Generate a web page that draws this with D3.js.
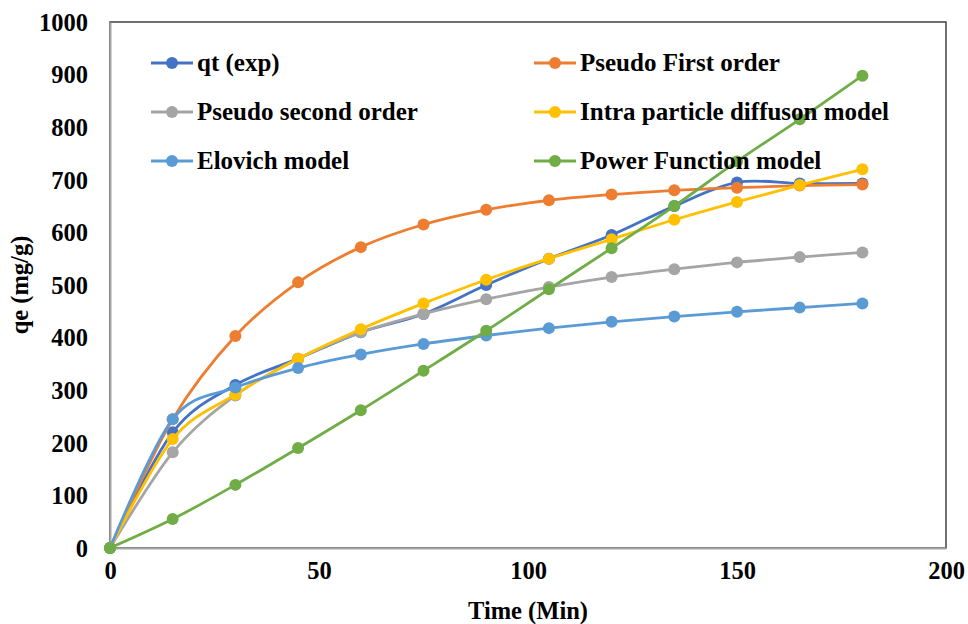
<!DOCTYPE html>
<html>
<head>
<meta charset="utf-8">
<script src="https://cdn.jsdelivr.net/npm/d3@7"></script>
<style>
  body { margin: 0; background: #fff; }
</style>
</head>
<body>
<div id="chart"></div>
<script>
const width = 968;
const height = 624;
const FONT = '"Liberation Serif"';

// time points (min)
const times = [0, 15, 30, 45, 60, 75, 90, 105, 120, 135, 150, 165, 180];

const qtExp = [0, 220, 310, 360, 410, 445, 500, 550, 595, 650, 695, 693, 693];
const pseudoFirst = [0, 245, 403, 505, 572, 615, 643, 661, 672, 680, 685, 689, 691];
const pseudoSecond = [0, 182, 290, 360, 410, 445, 473, 496, 515, 530, 543, 553, 562];
const intraParticle = [0, 207, 292, 360, 416, 465, 510, 550, 587, 624, 658, 690, 720];
const elovich = [0, 245, 305, 342, 368, 388, 404, 418, 430, 440, 449, 457, 465];
const powerFunction = [0, 55, 120, 190, 262, 337, 413, 492, 570, 650, 735, 815, 898];

const xTicks = [0, 50, 100, 150, 200];
const yTicks = [0, 100, 200, 300, 400, 500, 600, 700, 800, 900, 1000];

const series = [
  { name: "qt (exp)", values: qtExp, color: "#4472C4" },
  { name: "Pseudo First order", values: pseudoFirst, color: "#ED7D31" },
  { name: "Pseudo second order", values: pseudoSecond, color: "#A5A5A5" },
  { name: "Intra particle diffuson model", values: intraParticle, color: "#FFC000" },
  { name: "Elovich model", values: elovich, color: "#5B9BD5" },
  { name: "Power Function model", values: powerFunction, color: "#70AD47" }
];

const margin = { left: 110, right: 22, top: 22, bottom: 76 };

const svg = d3.select("#chart")
  .append("svg")
  .attr("width", width)
  .attr("height", height);

const x = d3.scaleLinear()
  .domain([0, 200])
  .range([margin.left, width - margin.right]);

const y = d3.scaleLinear()
  .domain([0, 1000])
  .range([height - margin.bottom, margin.top]);

// bold serif text helper
function styleText(sel, size) {
  return sel
    .style("font-family", FONT)
    .style("font-weight", "bold")
    .style("font-size", size + "px")
    .attr("fill", "#000");
}

// plot area frame
svg.append("rect")
  .attr("x", x(0))
  .attr("y", y(1000))
  .attr("width", x(200) - x(0))
  .attr("height", y(0) - y(1000))
  .attr("fill", "none")
  .attr("stroke", "#262626")
  .attr("stroke-width", 1.3);

// axes
const xAxis = svg.append("g")
  .attr("transform", `translate(0, ${y(0)})`)
  .call(d3.axisBottom(x).tickValues(xTicks).tickFormat(d3.format("d")).tickSize(0).tickPadding(19));

const yAxis = svg.append("g")
  .attr("transform", `translate(${x(0)}, 0)`)
  .call(d3.axisLeft(y).tickValues(yTicks).tickFormat(d3.format("d")).tickSize(0).tickPadding(22));

[xAxis, yAxis].forEach(g => {
  g.attr("font-family", null);
  g.select(".domain").attr("stroke", "#A6A6A6").attr("stroke-width", 2);
  styleText(g.selectAll("text"), 24.5);
});

xAxis.selectAll("text").attr("dy", "0.5em");
yAxis.selectAll("text").attr("dy", "0.34em");

// axis titles
styleText(svg.append("text"), 24.5)
  .attr("x", (x(0) + x(200)) / 2)
  .attr("y", 619)
  .attr("text-anchor", "middle")
  .text("Time (Min)");

styleText(svg.append("text"), 24.5)
  .attr("transform", `translate(28, ${(y(0) + y(1000)) / 2}) rotate(-90)`)
  .attr("text-anchor", "middle")
  .text("qe (mg/g)");

// smoothed lines with markers
const line = d3.line()
  .x((d, i) => x(times[i]))
  .y(d => y(d))
  .curve(d3.curveCatmullRom.alpha(0));

series.forEach(s => {
  const g = svg.append("g");
  g.append("path")
    .attr("d", line(s.values))
    .attr("fill", "none")
    .attr("stroke", s.color)
    .attr("stroke-width", 2.8);
  g.selectAll("circle")
    .data(s.values)
    .enter()
    .append("circle")
    .attr("cx", (d, i) => x(times[i]))
    .attr("cy", d => y(d))
    .attr("r", 6)
    .attr("fill", s.color);
});

// legend, two columns
const legendCols = [151, 534];
const legendRows = [63, 112, 161];

series.forEach((s, i) => {
  const lx = legendCols[i % 2];
  const ly = legendRows[Math.floor(i / 2)];
  const g = svg.append("g").attr("transform", `translate(${lx}, ${ly})`);
  g.append("line")
    .attr("x1", 0).attr("x2", 42)
    .attr("stroke", s.color)
    .attr("stroke-width", 2.8);
  g.append("circle")
    .attr("cx", 21)
    .attr("r", 6)
    .attr("fill", s.color);
  styleText(g.append("text"), 25)
    .attr("x", 46)
    .attr("dy", "0.33em")
    .text(s.name);
});
</script>
</body>
</html>
